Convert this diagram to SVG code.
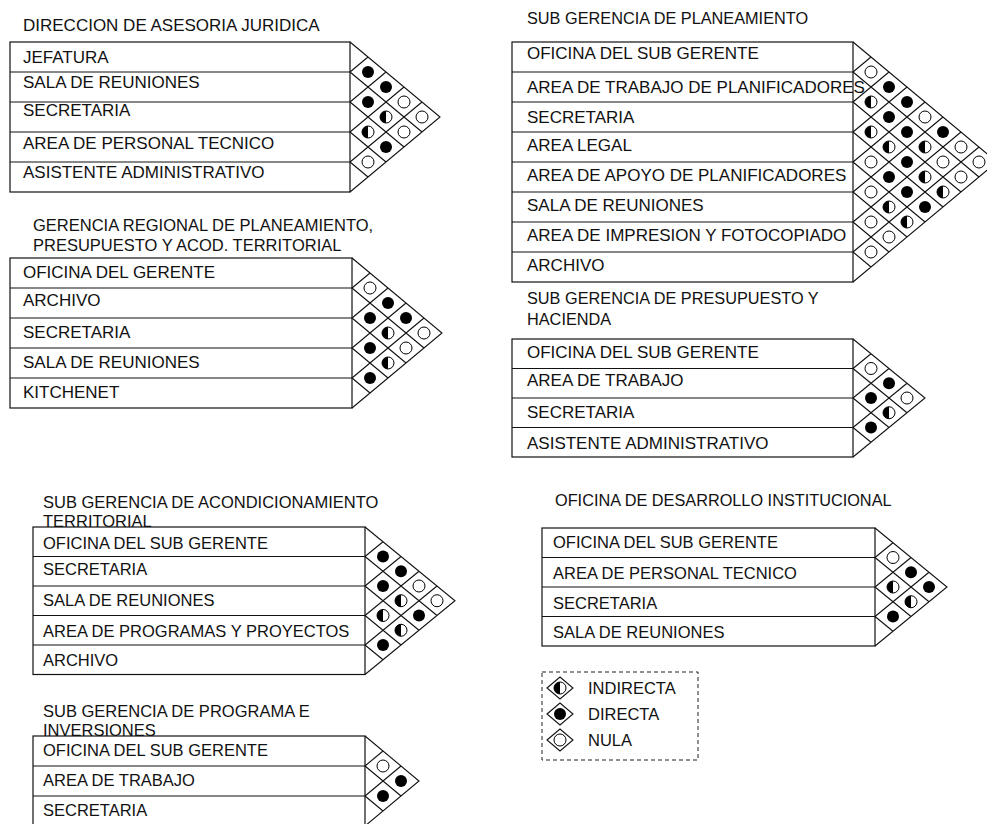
<svg xmlns="http://www.w3.org/2000/svg" width="987" height="824" viewBox="0 0 987 824">
<style>
.tb{fill:none;stroke:#111;stroke-width:1.2}
.ln{fill:none;stroke:#111;stroke-width:1.1}
.t{font-family:"Liberation Sans",Arial,sans-serif;font-size:17px;fill:#111}
.s{font-size:16.5px}
.h{font-size:16.3px}
.lg{fill:none;stroke:#222;stroke-width:1;stroke-dasharray:4 3}
</style>
<defs>
<g id="sD"><circle r="6" fill="#000"/></g>
<g id="sN"><circle r="6" fill="#fff" stroke="#000" stroke-width="1"/></g>
<g id="sI"><circle r="6" fill="#fff" stroke="#000" stroke-width="1"/><path d="M0,-6 A6,6 0 0 0 0,6 Z" fill="#000"/></g>
<path id="g5" d="M0,0 L90,75 L0,150 M0,30 L72,90 M0,30 L18,15 M0,60 L54,105 M0,60 L36,30 M0,90 L36,120 M0,90 L54,45 M0,120 L18,135 M0,120 L72,60"/>
<path id="g5b" d="M0,0 L90,73.75 L0,147.5 M0,29.5 L72,88.5 M0,29.5 L18,14.75 M0,59 L54,103.25 M0,59 L36,29.5 M0,88.5 L36,118 M0,88.5 L54,44.25 M0,118 L18,132.75 M0,118 L72,59"/>
<path id="g3" d="M0,0 L54,45 L0,90 M0,30 L36,60 M0,30 L18,15 M0,60 L18,75 M0,60 L36,30"/>
<path id="g8" d="M0,0 L144,120 L0,240 M0,30 L126,135 M0,30 L18,15 M0,60 L108,150 M0,60 L36,30 M0,90 L90,165 M0,90 L54,45 M0,120 L72,180 M0,120 L72,60 M0,150 L54,195 M0,150 L90,75 M0,180 L36,210 M0,180 L108,90 M0,210 L18,225 M0,210 L126,105"/>
<path id="g4" d="M0,0 L72,59 L0,118 M0,29.5 L54,73.75 M0,29.5 L18,14.75 M0,59 L36,88.5 M0,59 L36,29.5 M0,88.5 L18,103.25 M0,88.5 L54,44.25"/>
</defs>
<rect width="987" height="824" fill="#fff"/>

<g id="asesoria-juridica">
<text class="t" x="23" y="31">DIRECCION DE ASESORIA JURIDICA</text>
<rect class="tb" x="10" y="42" width="340" height="150"/>
<path class="tb" d="M10,72H350M10,102H350M10,132H350M10,162H350"/>
<text class="t" x="23" y="63">JEFATURA</text>
<text class="t" x="23" y="88">SALA DE REUNIONES</text>
<text class="t" x="23" y="116">SECRETARIA</text>
<text class="t" x="23" y="149">AREA DE PERSONAL TECNICO</text>
<text class="t" x="23" y="178">ASISTENTE ADMINISTRATIVO</text>
<g transform="translate(350,42)">
<use href="#g5" class="ln"/>
<use href="#sD" x="18" y="30"/><use href="#sD" x="36" y="45"/><use href="#sD" x="18" y="60"/><use href="#sN" x="54" y="60"/><use href="#sI" x="36" y="75"/><use href="#sN" x="72" y="75"/><use href="#sI" x="18" y="90"/><use href="#sN" x="54" y="90"/><use href="#sD" x="36" y="105"/><use href="#sN" x="18" y="120"/>
</g>
</g>

<g id="gerencia-regional">
<text class="t s" x="33" y="231">GERENCIA REGIONAL DE PLANEAMIENTO,</text>
<text class="t s" x="33" y="251">PRESUPUESTO Y ACOD. TERRITORIAL</text>
<rect class="tb" x="10" y="258" width="342" height="150"/>
<path class="tb" d="M10,288H352M10,318H352M10,348H352M10,378H352"/>
<text class="t" x="23" y="278">OFICINA DEL GERENTE</text>
<text class="t" x="23" y="306">ARCHIVO</text>
<text class="t" x="23" y="338">SECRETARIA</text>
<text class="t" x="23" y="368">SALA DE REUNIONES</text>
<text class="t" x="23" y="398">KITCHENET</text>
<g transform="translate(352,258)">
<use href="#g5" class="ln"/>
<use href="#sN" x="18" y="30"/><use href="#sD" x="36" y="45"/><use href="#sD" x="18" y="60"/><use href="#sD" x="54" y="60"/><use href="#sI" x="36" y="75"/><use href="#sN" x="72" y="75"/><use href="#sD" x="18" y="90"/><use href="#sN" x="54" y="90"/><use href="#sI" x="36" y="105"/><use href="#sD" x="18" y="120"/>
</g>
</g>

<g id="acondicionamiento-territorial">
<text class="t s" x="43" y="508">SUB GERENCIA DE ACONDICIONAMIENTO</text>
<text class="t s" x="43" y="527">TERRITORIAL</text>
<rect class="tb" x="33" y="527" width="332" height="147.5"/>
<path class="tb" d="M33,556.5H365M33,586H365M33,615.5H365M33,645H365"/>
<text class="t s" x="43" y="549">OFICINA DEL SUB GERENTE</text>
<text class="t s" x="43" y="575">SECRETARIA</text>
<text class="t s" x="43" y="606">SALA DE REUNIONES</text>
<text class="t s" x="43" y="637">AREA DE PROGRAMAS Y PROYECTOS</text>
<text class="t s" x="43" y="666">ARCHIVO</text>
<g transform="translate(365,527)">
<use href="#g5b" class="ln"/>
<use href="#sD" x="18" y="29.5"/><use href="#sD" x="36" y="44.25"/><use href="#sD" x="18" y="59"/><use href="#sN" x="54" y="59"/><use href="#sI" x="36" y="73.75"/><use href="#sN" x="72" y="73.75"/><use href="#sI" x="18" y="88.5"/><use href="#sD" x="54" y="88.5"/><use href="#sI" x="36" y="103.25"/><use href="#sD" x="18" y="118"/>
</g>
</g>

<g id="programa-inversiones">
<text class="t s" x="43" y="717">SUB GERENCIA DE PROGRAMA E</text>
<text class="t s" x="43" y="736">INVERSIONES</text>
<rect class="tb" x="33" y="736" width="332" height="90"/>
<path class="tb" d="M33,766H365M33,796H365"/>
<text class="t s" x="43" y="756">OFICINA DEL SUB GERENTE</text>
<text class="t s" x="43" y="786">AREA DE TRABAJO</text>
<text class="t s" x="43" y="816">SECRETARIA</text>
<g transform="translate(365,736)">
<use href="#g3" class="ln"/>
<use href="#sN" x="18" y="30"/><use href="#sD" x="36" y="45"/><use href="#sD" x="18" y="60"/>
</g>
</g>

<g id="planeamiento">
<text class="t h" x="527" y="24">SUB GERENCIA DE PLANEAMIENTO</text>
<rect class="tb" x="512" y="42" width="341" height="240"/>
<path class="tb" d="M512,72H853M512,102H853M512,132H853M512,162H853M512,192H853M512,222H853M512,252H853"/>
<text class="t" x="527" y="59">OFICINA DEL SUB GERENTE</text>
<text class="t" x="527" y="93">AREA DE TRABAJO DE PLANIFICADORES</text>
<text class="t" x="527" y="123">SECRETARIA</text>
<text class="t" x="527" y="151">AREA LEGAL</text>
<text class="t" x="527" y="181">AREA DE APOYO DE PLANIFICADORES</text>
<text class="t" x="527" y="211">SALA DE REUNIONES</text>
<text class="t" x="527" y="241">AREA DE IMPRESION Y FOTOCOPIADO</text>
<text class="t" x="527" y="271">ARCHIVO</text>
<g transform="translate(853,42)">
<use href="#g8" class="ln"/>
<use href="#sN" x="18" y="30"/><use href="#sD" x="36" y="45"/><use href="#sI" x="18" y="60"/><use href="#sD" x="54" y="60"/><use href="#sD" x="36" y="75"/><use href="#sN" x="72" y="75"/><use href="#sI" x="18" y="90"/><use href="#sD" x="54" y="90"/><use href="#sD" x="90" y="90"/><use href="#sI" x="36" y="105"/><use href="#sI" x="72" y="105"/><use href="#sN" x="108" y="105"/><use href="#sN" x="18" y="120"/><use href="#sD" x="54" y="120"/><use href="#sN" x="90" y="120"/><use href="#sN" x="126" y="120"/><use href="#sD" x="36" y="135"/><use href="#sI" x="72" y="135"/><use href="#sN" x="108" y="135"/><use href="#sN" x="18" y="150"/><use href="#sD" x="54" y="150"/><use href="#sI" x="90" y="150"/><use href="#sI" x="36" y="165"/><use href="#sD" x="72" y="165"/><use href="#sN" x="18" y="180"/><use href="#sI" x="54" y="180"/><use href="#sN" x="36" y="195"/><use href="#sN" x="18" y="210"/>
</g>
</g>

<g id="presupuesto-hacienda">
<text class="t h" x="527" y="304">SUB GERENCIA DE PRESUPUESTO Y</text>
<text class="t h" x="527" y="325">HACIENDA</text>
<rect class="tb" x="512" y="339" width="341" height="118"/>
<path class="tb" d="M512,368.5H853M512,398H853M512,427.5H853"/>
<text class="t" x="527" y="358">OFICINA DEL SUB GERENTE</text>
<text class="t" x="527" y="386">AREA DE TRABAJO</text>
<text class="t" x="527" y="418">SECRETARIA</text>
<text class="t" x="527" y="449">ASISTENTE ADMINISTRATIVO</text>
<g transform="translate(853,339)">
<use href="#g4" class="ln"/>
<use href="#sN" x="18" y="29.5"/><use href="#sD" x="36" y="44.25"/><use href="#sD" x="18" y="59"/><use href="#sN" x="54" y="59"/><use href="#sI" x="36" y="73.75"/><use href="#sD" x="18" y="88.5"/>
</g>
</g>

<g id="desarrollo-institucional">
<text class="t h" x="555" y="506">OFICINA DE DESARROLLO INSTITUCIONAL</text>
<rect class="tb" x="542" y="528" width="333" height="118"/>
<path class="tb" d="M542,557.5H875M542,587H875M542,616.5H875"/>
<text class="t s" x="553" y="548">OFICINA DEL SUB GERENTE</text>
<text class="t s" x="553" y="579">AREA DE PERSONAL TECNICO</text>
<text class="t s" x="553" y="609">SECRETARIA</text>
<text class="t s" x="553" y="638">SALA DE REUNIONES</text>
<g transform="translate(875,528)">
<use href="#g4" class="ln"/>
<use href="#sN" x="18" y="29.5"/><use href="#sD" x="36" y="44.25"/><use href="#sI" x="18" y="59"/><use href="#sD" x="54" y="59"/><use href="#sI" x="36" y="73.75"/><use href="#sD" x="18" y="88.5"/>
</g>
</g>

<g id="leyenda">
<rect class="lg" x="542" y="672" width="156" height="88"/>
<g transform="translate(560,688)"><path class="ln" d="M-13,0L0,-11L13,0L0,11Z"/><use href="#sI"/></g>
<text class="t s" x="588" y="694">INDIRECTA</text>
<g transform="translate(560,714)"><path class="ln" d="M-13,0L0,-11L13,0L0,11Z"/><use href="#sD"/></g>
<text class="t s" x="588" y="720">DIRECTA</text>
<g transform="translate(560,740)"><path class="ln" d="M-13,0L0,-11L13,0L0,11Z"/><use href="#sN"/></g>
<text class="t s" x="588" y="746">NULA</text>
</g>

<g id="connectors"></g>
</svg>
